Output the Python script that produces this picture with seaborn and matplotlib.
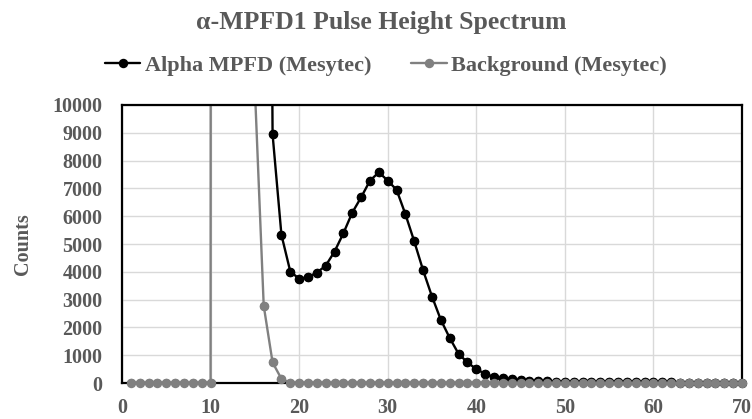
import numpy as np
import pandas as pd
import matplotlib
matplotlib.use("Agg")
import matplotlib.pyplot as plt
import seaborn as sns

# channel numbers and counts
alpha_channel = list(range(16, 71))
alpha_counts = [60000, 8950, 5330, 4010, 3750, 3810, 3970, 4220, 4730, 5390,
                6130, 6680, 7280, 7580, 7280, 6950, 6070, 5090, 4050, 3110,
                2270, 1620, 1050, 740, 500, 330, 210, 170, 130, 100,
                80, 70, 60, 50, 45, 40, 40, 35, 35, 30,
                30, 35, 30, 25, 25, 20, 20, 15, 15, 15,
                10, 10, 10, 10, 10]

bg_channel = list(range(1, 71))
bg_counts = ([0] * 10
             + [900000, 600000, 200000, 60000, 10600, 2780, 740, 150]
             + [0] * 52)

alpha_name = "Alpha MPFD (Mesytec)"
bg_name = "Background (Mesytec)"

df = pd.concat([
    pd.DataFrame({"channel": alpha_channel, "counts": alpha_counts, "series": alpha_name}),
    pd.DataFrame({"channel": bg_channel, "counts": bg_counts, "series": bg_name}),
], ignore_index=True)

sns.set_theme(style="whitegrid")
plt.rcParams["font.family"] = ["Liberation Serif", "DejaVu Serif"]
plt.rcParams["font.weight"] = "bold"

txt = "#595959"
colors = {alpha_name: "#000000", bg_name: "#808080"}
order = [alpha_name, bg_name]

fig, ax = plt.subplots(figsize=(7.52, 4.19), dpi=100)
fig.subplots_adjust(left=122 / 752, right=742 / 752, top=1 - 105 / 419, bottom=1 - 383 / 419)

sns.lineplot(data=df, x="channel", y="counts", hue="series", hue_order=order,
             palette=colors, marker="o", markersize=6.8, markeredgewidth=0,
             linewidth=1.7, legend=False, ax=ax)

# markers sitting on the axis lines are drawn whole, like in the original
inside = df[df["counts"] <= 10000]
for name in order:
    sns.scatterplot(data=inside[inside["series"] == name], x="channel", y="counts",
                    color=colors[name], s=46, linewidth=0, clip_on=False,
                    zorder=4 if name == bg_name else 3, legend=False, ax=ax)

ax.set_xlim(0, 70)
ax.set_ylim(0, 10000)
ax.set_xticks(range(0, 71, 10))
ax.set_yticks(range(0, 10001, 1000))
ax.grid(True, color="#d9d9d9", linewidth=1)
ax.tick_params(length=0, labelsize=14.5, labelcolor=txt, pad=14)
ax.tick_params(axis="x", pad=11)

for s in ax.spines.values():
    s.set_color("black")
    s.set_linewidth(1.6)

ax.set_xlabel("")
ax.set_ylabel("Counts", fontsize=14.5, color=txt, fontweight="bold", labelpad=14)

fig.text(381 / 752, 1 - 22 / 419, "\u03b1-MPFD1 Pulse Height Spectrum", ha="center", va="center",
         fontsize=18.5, color=txt, fontweight="bold")

handles = ax.lines[:2]
leg = fig.legend(handles, order, loc="center", bbox_to_anchor=(386 / 752, 1 - 66 / 419),
                 ncol=2, frameon=False, fontsize=16, handlelength=1.6,
                 handletextpad=0.2, columnspacing=1.8, labelcolor=txt)

fig.savefig("out.png", dpi=100)
